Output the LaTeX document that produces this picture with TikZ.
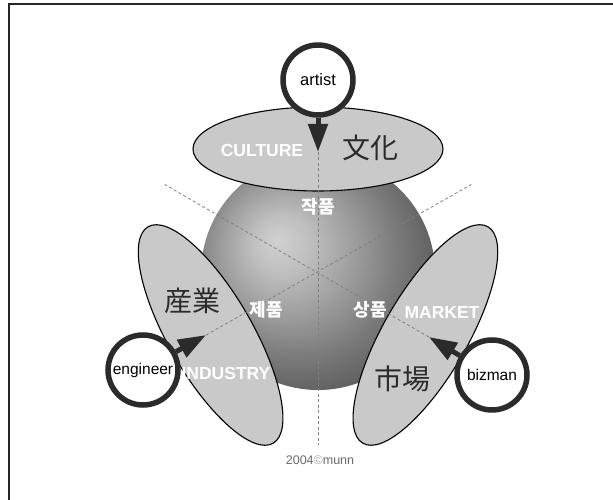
\documentclass[tikz,border=0pt]{standalone}
\usepackage{fontspec}
\setmainfont{Liberation Sans}
\newfontfamily\krfont{Noto Sans CJK KR}
\newfontfamily\jpfont{Noto Sans CJK JP}
\usetikzlibrary{arrows.meta,shapes.geometric,calc}

\definecolor{ink}{gray}{0.17}
\definecolor{lobefill}{gray}{0.79}
\definecolor{guidegray}{gray}{0.50}
\definecolor{creditgray}{gray}{0.42}
\definecolor{sphA}{gray}{0.82}
\definecolor{sphB}{gray}{0.75}
\definecolor{sphC}{gray}{0.62}
\definecolor{sphD}{gray}{0.48}
\definecolor{sphE}{gray}{0.36}
\definecolor{sphF}{gray}{0.29}

% globe shading with the highlight up and to the left
\pgfdeclareradialshading{globe}{\pgfpoint{-9bp}{7bp}}{%
  color(0bp)=(sphA); color(6bp)=(sphB); color(14bp)=(sphC);
  color(22bp)=(sphD); color(30bp)=(sphE); color(37bp)=(sphF);
  color(50bp)=(sphF)}

\begin{document}
\begin{tikzpicture}[x=1pt,y=1pt,
  frame/.style={draw=black!85, line width=2pt},
  globestyle/.style={circle, minimum size=234pt, inner sep=0pt, shading=globe},
  lobe/.style={ellipse, draw=black, line width=1.1pt, fill=lobefill,
    minimum width=250pt, minimum height=84pt, inner sep=0pt},
  ring/.style={circle, draw=ink, line width=5.5pt, fill=white,
    minimum size=70pt, inner sep=0pt, text=black,
    font=\fontsize{15.5}{16}\selectfont},
  pointer/.style={draw=ink, line width=5pt,
    -{Triangle[length=28pt, width=19pt]}},
  guide/.style={draw=guidegray, line width=0.8pt, dash pattern=on 3pt off 2.5pt},
  en/.style={text=white, inner sep=0pt, font=\fontsize{17.5}{18}\selectfont\bfseries},
  hangul/.style={text=white, inner sep=0pt, font=\krfont\fontsize{18}{18}\selectfont\bfseries},
  kanji/.style={text=ink, inner sep=0pt, font=\jpfont\fontsize{28}{28}\selectfont},
  credit/.style={text=creditgray, inner sep=0pt, font=\fontsize{12.5}{13}\selectfont}
]
\useasboundingbox (0,0) rectangle (613,500);
\fill[white] (0,0) rectangle (613,500);
\draw[frame] (8.5,0) -- (8.5,495.5) -- (613,495.5);

% the globe and the three lobes around it
\coordinate (C) at (318,227);
\node[globestyle] (globe) at (C) {};
\node[lobe, rotate=-60] (industry) at ($(C)+(210:124)$) {};
\node[lobe, rotate=60] (market) at ($(C)+(330:124)$) {};
\node[lobe] (culture) at ($(C)+(90:124)$) {};

% dashed guides through the centre
\coordinate (tipA) at ($(C)+(90:121)$);
\coordinate (tipE) at ($(C)+(209:128)$);
\coordinate (tipB) at ($(C)+(330:128)$);
\coordinate (endS) at ($(C)+(270:172)$);
\coordinate (endNE) at ($(C)+(30:177)$);
\coordinate (endNW) at ($(C)+(150:177)$);
\draw[guide] (tipA) -- (endS);
\draw[guide] (tipE) -- (endNE);
\draw[guide] (tipB) -- (endNW);

% labels
\node[en] (cultureEn) at (262,350) {CULTURE};
\node[kanji] (cultureZh) at (370,352) {文化};
\node[hangul] (work) at (318,293) {작품};
\node[hangul] (product) at (266,190) {제품};
\node[hangul] (goods) at (370,190) {상품};
\node[en] (marketEn) at (442,188) {MARKET};
\node[en] (industryEn) at (226,127) {INDUSTRY};
\node[kanji] (industryZh) at (192,199) {産業};
\node[kanji] (marketZh) at (402,121) {市場};

% actors
\node[ring, font=\fontsize{16.5}{17}\selectfont] (artist) at (318,420) {artist};
\node[ring] (engineer) at (143,130) {engineer};
\node[ring] (bizman) at (492,125) {bizman};
\draw[pointer] (artist) -- (tipA);
\draw[pointer] (engineer) -- (tipE);
\draw[pointer] (bizman) -- (tipB);

\node[credit] (creditline) at (320,40) {2004{\color{gray!70}\textcopyright}munn};
\end{tikzpicture}
\end{document}
